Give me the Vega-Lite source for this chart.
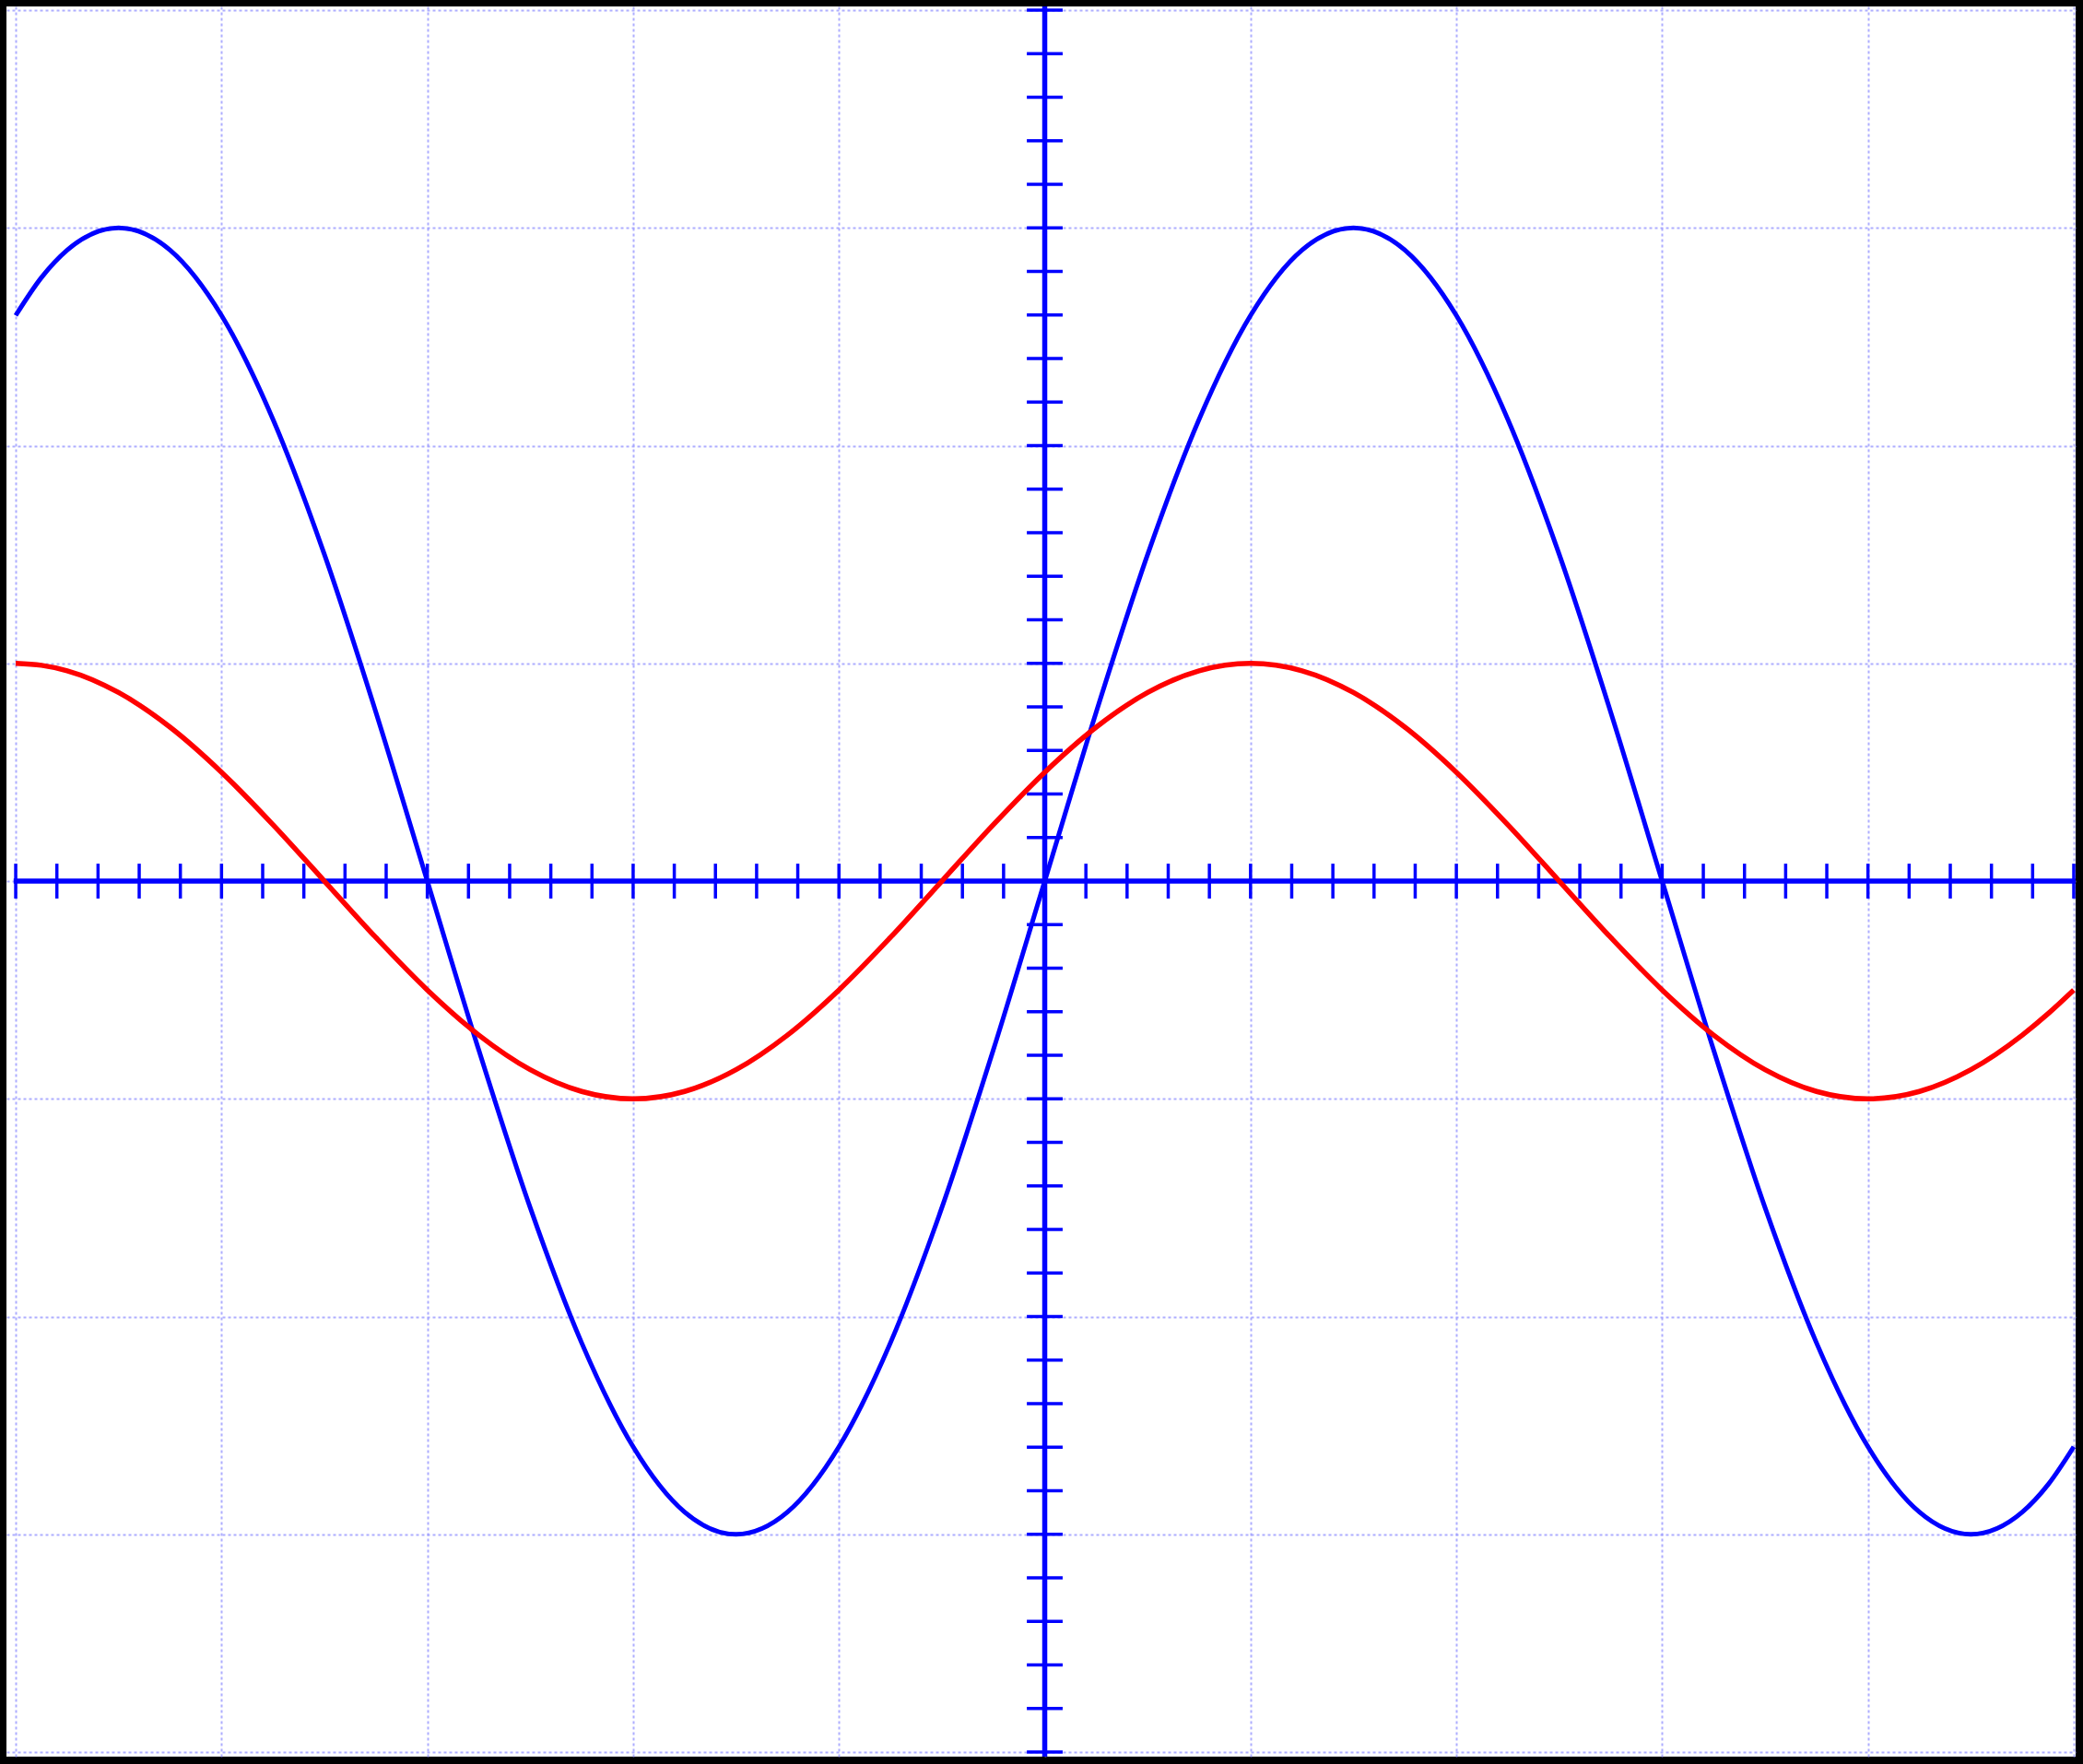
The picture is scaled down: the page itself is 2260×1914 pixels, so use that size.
{
  "$schema": "https://vega.github.io/schema/vega-lite/v6.json",
  "description": "Oscilloscope-style screen: two sine traces over a dotted grid with centre axes",
  "autosize": "none",
  "width": 2245,
  "height": 1899,
  "padding": {"left": 7, "top": 7, "right": 8, "bottom": 8},
  "background": "black",
  "datasets": {
    "waves": [
      {"t": -5, "v": 2.598, "trace": "blue"},
      {"t": -4.875, "v": 2.772, "trace": "blue"},
      {"t": -4.75, "v": 2.898, "trace": "blue"},
      {"t": -4.5, "v": 3, "trace": "blue"},
      {"t": -4.25, "v": 2.898, "trace": "blue"},
      {"t": -4, "v": 2.598, "trace": "blue"},
      {"t": -3.75, "v": 2.121, "trace": "blue"},
      {"t": -3.5, "v": 1.5, "trace": "blue"},
      {"t": -3.25, "v": 0.776, "trace": "blue"},
      {"t": -3, "v": 0, "trace": "blue"},
      {"t": -2.75, "v": -0.776, "trace": "blue"},
      {"t": -2.5, "v": -1.5, "trace": "blue"},
      {"t": -2.25, "v": -2.121, "trace": "blue"},
      {"t": -2, "v": -2.598, "trace": "blue"},
      {"t": -1.75, "v": -2.898, "trace": "blue"},
      {"t": -1.5, "v": -3, "trace": "blue"},
      {"t": -1.25, "v": -2.898, "trace": "blue"},
      {"t": -1, "v": -2.598, "trace": "blue"},
      {"t": -0.75, "v": -2.121, "trace": "blue"},
      {"t": -0.5, "v": -1.5, "trace": "blue"},
      {"t": -0.25, "v": -0.776, "trace": "blue"},
      {"t": 0, "v": 0, "trace": "blue"},
      {"t": 0.25, "v": 0.776, "trace": "blue"},
      {"t": 0.5, "v": 1.5, "trace": "blue"},
      {"t": 0.75, "v": 2.121, "trace": "blue"},
      {"t": 1, "v": 2.598, "trace": "blue"},
      {"t": 1.25, "v": 2.898, "trace": "blue"},
      {"t": 1.5, "v": 3, "trace": "blue"},
      {"t": 1.75, "v": 2.898, "trace": "blue"},
      {"t": 2, "v": 2.598, "trace": "blue"},
      {"t": 2.25, "v": 2.121, "trace": "blue"},
      {"t": 2.5, "v": 1.5, "trace": "blue"},
      {"t": 2.75, "v": 0.776, "trace": "blue"},
      {"t": 3, "v": 0, "trace": "blue"},
      {"t": 3.25, "v": -0.776, "trace": "blue"},
      {"t": 3.5, "v": -1.5, "trace": "blue"},
      {"t": 3.75, "v": -2.121, "trace": "blue"},
      {"t": 4, "v": -2.598, "trace": "blue"},
      {"t": 4.25, "v": -2.898, "trace": "blue"},
      {"t": 4.5, "v": -3, "trace": "blue"},
      {"t": 4.75, "v": -2.898, "trace": "blue"},
      {"t": 4.875, "v": -2.772, "trace": "blue"},
      {"t": 5, "v": -2.598, "trace": "blue"},
      {"t": -5, "v": 1, "trace": "red"},
      {"t": -4.875, "v": 0.991, "trace": "red"},
      {"t": -4.75, "v": 0.966, "trace": "red"},
      {"t": -4.5, "v": 0.866, "trace": "red"},
      {"t": -4.25, "v": 0.707, "trace": "red"},
      {"t": -4, "v": 0.5, "trace": "red"},
      {"t": -3.75, "v": 0.259, "trace": "red"},
      {"t": -3.5, "v": 0, "trace": "red"},
      {"t": -3.25, "v": -0.259, "trace": "red"},
      {"t": -3, "v": -0.5, "trace": "red"},
      {"t": -2.75, "v": -0.707, "trace": "red"},
      {"t": -2.5, "v": -0.866, "trace": "red"},
      {"t": -2.25, "v": -0.966, "trace": "red"},
      {"t": -2, "v": -1, "trace": "red"},
      {"t": -1.75, "v": -0.966, "trace": "red"},
      {"t": -1.5, "v": -0.866, "trace": "red"},
      {"t": -1.25, "v": -0.707, "trace": "red"},
      {"t": -1, "v": -0.5, "trace": "red"},
      {"t": -0.75, "v": -0.259, "trace": "red"},
      {"t": -0.5, "v": 0, "trace": "red"},
      {"t": -0.25, "v": 0.259, "trace": "red"},
      {"t": 0, "v": 0.5, "trace": "red"},
      {"t": 0.25, "v": 0.707, "trace": "red"},
      {"t": 0.5, "v": 0.866, "trace": "red"},
      {"t": 0.75, "v": 0.966, "trace": "red"},
      {"t": 1, "v": 1, "trace": "red"},
      {"t": 1.25, "v": 0.966, "trace": "red"},
      {"t": 1.5, "v": 0.866, "trace": "red"},
      {"t": 1.75, "v": 0.707, "trace": "red"},
      {"t": 2, "v": 0.5, "trace": "red"},
      {"t": 2.25, "v": 0.259, "trace": "red"},
      {"t": 2.5, "v": 0, "trace": "red"},
      {"t": 2.75, "v": -0.259, "trace": "red"},
      {"t": 3, "v": -0.5, "trace": "red"},
      {"t": 3.25, "v": -0.707, "trace": "red"},
      {"t": 3.5, "v": -0.866, "trace": "red"},
      {"t": 3.75, "v": -0.966, "trace": "red"},
      {"t": 4, "v": -1, "trace": "red"},
      {"t": 4.25, "v": -0.966, "trace": "red"},
      {"t": 4.5, "v": -0.866, "trace": "red"},
      {"t": 4.75, "v": -0.707, "trace": "red"},
      {"t": 4.875, "v": -0.609, "trace": "red"},
      {"t": 5, "v": -0.5, "trace": "red"}
    ],
    "xticks": [
      {"pos": -5}, {"pos": -4.8}, {"pos": -4.6}, {"pos": -4.4}, {"pos": -4.2},
      {"pos": -4}, {"pos": -3.8}, {"pos": -3.6}, {"pos": -3.4}, {"pos": -3.2},
      {"pos": -3}, {"pos": -2.8}, {"pos": -2.6}, {"pos": -2.4}, {"pos": -2.2},
      {"pos": -2}, {"pos": -1.8}, {"pos": -1.6}, {"pos": -1.4}, {"pos": -1.2},
      {"pos": -1}, {"pos": -0.8}, {"pos": -0.6}, {"pos": -0.4}, {"pos": -0.2},
      {"pos": 0}, {"pos": 0.2}, {"pos": 0.4}, {"pos": 0.6}, {"pos": 0.8},
      {"pos": 1}, {"pos": 1.2}, {"pos": 1.4}, {"pos": 1.6}, {"pos": 1.8},
      {"pos": 2}, {"pos": 2.2}, {"pos": 2.4}, {"pos": 2.6}, {"pos": 2.8},
      {"pos": 3}, {"pos": 3.2}, {"pos": 3.4}, {"pos": 3.6}, {"pos": 3.8},
      {"pos": 4}, {"pos": 4.2}, {"pos": 4.4}, {"pos": 4.6}, {"pos": 4.8},
      {"pos": 5}
    ],
    "yticks": [
      {"pos": -4}, {"pos": -3.8}, {"pos": -3.6}, {"pos": -3.4}, {"pos": -3.2},
      {"pos": -3}, {"pos": -2.8}, {"pos": -2.6}, {"pos": -2.4}, {"pos": -2.2},
      {"pos": -2}, {"pos": -1.8}, {"pos": -1.6}, {"pos": -1.4}, {"pos": -1.2},
      {"pos": -1}, {"pos": -0.8}, {"pos": -0.6}, {"pos": -0.4}, {"pos": -0.2},
      {"pos": 0}, {"pos": 0.2}, {"pos": 0.4}, {"pos": 0.6}, {"pos": 0.8},
      {"pos": 1}, {"pos": 1.2}, {"pos": 1.4}, {"pos": 1.6}, {"pos": 1.8},
      {"pos": 2}, {"pos": 2.2}, {"pos": 2.4}, {"pos": 2.6}, {"pos": 2.8},
      {"pos": 3}, {"pos": 3.2}, {"pos": 3.4}, {"pos": 3.6}, {"pos": 3.8},
      {"pos": 4}
    ]
  },
  "layer": [
    {
      "data": {"name": "waves"},
      "mark": {"type": "line", "opacity": 0},
      "encoding": {
        "x": {
          "field": "t",
          "type": "quantitative",
          "scale": {"domain": [-5.045, 5.009], "nice": false, "zero": false},
          "axis": {
            "values": [-5, -4, -3, -2, -1, 0, 1, 2, 3, 4, 5],
            "grid": true,
            "labels": false,
            "ticks": false,
            "domain": false,
            "title": null
          }
        },
        "y": {
          "field": "v",
          "type": "quantitative",
          "scale": {"domain": [-4.021, 4.017], "nice": false, "zero": false},
          "axis": {
            "values": [-4, -3, -2, -1, 0, 1, 2, 3, 4],
            "grid": true,
            "labels": false,
            "ticks": false,
            "domain": false,
            "title": null
          }
        },
        "detail": {"field": "trace"}
      }
    },
    {
      "data": {"name": "xticks"},
      "mark": {"type": "rule", "color": "#0000ff", "strokeWidth": 3.5},
      "encoding": {
        "x": {"field": "pos", "type": "quantitative"},
        "y": {"datum": -0.08},
        "y2": {"datum": 0.08}
      }
    },
    {
      "data": {"name": "yticks"},
      "mark": {"type": "rule", "color": "#0000ff", "strokeWidth": 3.5},
      "encoding": {
        "y": {"field": "pos", "type": "quantitative"},
        "x": {"datum": -0.087},
        "x2": {"datum": 0.087}
      }
    },
    {
      "data": {"values": [{"k": 0}]},
      "mark": {"type": "rule", "color": "#0000ff", "strokeWidth": 5.5},
      "encoding": {
        "y": {"datum": 0},
        "x": {"datum": -5.01},
        "x2": {"datum": 5.009}
      }
    },
    {
      "data": {"values": [{"k": 0}]},
      "mark": {"type": "rule", "color": "#0000ff", "strokeWidth": 5.5},
      "encoding": {"x": {"datum": 0}}
    },
    {
      "data": {"name": "waves"},
      "transform": [{"filter": "datum.trace === 'blue'"}],
      "mark": {"type": "line", "color": "#0000ff", "strokeWidth": 5, "interpolate": "monotone", "clip": true},
      "encoding": {
        "x": {"field": "t", "type": "quantitative"},
        "y": {"field": "v", "type": "quantitative"}
      }
    },
    {
      "data": {"name": "waves"},
      "transform": [{"filter": "datum.trace === 'red'"}],
      "mark": {"type": "line", "color": "#ff0000", "strokeWidth": 5.5, "interpolate": "monotone", "clip": true},
      "encoding": {
        "x": {"field": "t", "type": "quantitative"},
        "y": {"field": "v", "type": "quantitative"}
      }
    }
  ],
  "config": {
    "view": {"fill": "white", "stroke": null},
    "axis": {
      "gridColor": "#9a9aff",
      "gridOpacity": 0.8,
      "gridWidth": 2,
      "gridDash": [3, 3]
    }
  }
}
